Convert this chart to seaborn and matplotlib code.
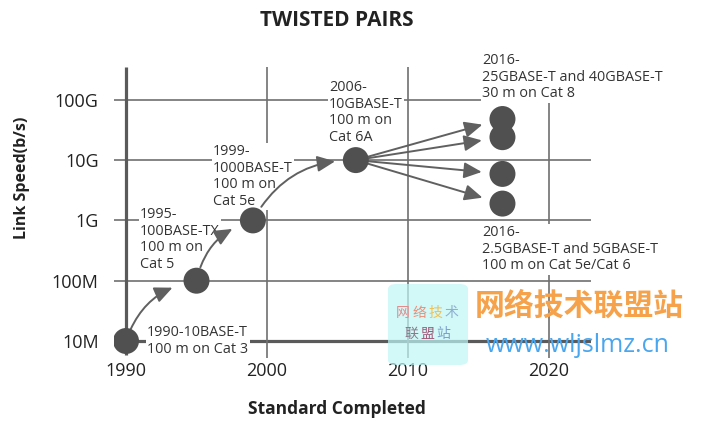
import numpy as np
import matplotlib
matplotlib.use("Agg")
import matplotlib.pyplot as plt
from matplotlib.patches import FancyBboxPatch
import seaborn as sns
import pandas as pd

# data
years = [1990, 1995, 1999, 2006.3, 2016.7, 2016.7, 2016.7, 2016.7]
speeds = [1e7, 1e8, 1e9, 1e10, 48e9, 24e9, 5.9e9, 1.9e9]
year_ticks = [1990, 2000, 2010, 2020]
speed_ticks = [1e7, 1e8, 1e9, 1e10, 1e11]
speed_labels = ["10M", "100M", "1G", "10G", "100G"]
labels = [
    "1990-10BASE-T\n100 m on Cat 3",
    "1995-\n100BASE-TX\n100 m on\nCat 5",
    "1999-\n1000BASE-T\n100 m on\nCat 5e",
    "2006-\n10GBASE-T\n100 m on\nCat 6A",
    "2016-\n25GBASE-T and 40GBASE-T\n30 m on Cat 8",
    "2016-\n2.5GBASE-T and 5GBASE-T\n100 m on Cat 5e/Cat 6",
]
label_px = [(147, 325), (140, 207), (213, 144), (329, 80), (482, 53), (482, 225)]

W, H = 705, 422
sns.set_style("white")
plt.rcParams["font.family"] = ["Open Sans", "DejaVu Sans"]

TXT = "#333333"
GRID = "#707070"
DOT = "#505050"

fig = plt.figure(figsize=(W / 100, H / 100), dpi=100)
ax = fig.add_axes([114 / W, (H - 358) / H, (591 - 114) / W, (358 - 60) / H])
ax.set_yscale("log")
px_per_year = 14.1
px_per_dec = 60.3
ax.set_xlim(1990 - 12 / px_per_year, 1990 + (591 - 126) / px_per_year)
ax.set_ylim(10 ** (7 - 17 / px_per_dec), 10 ** (7 + 281 / px_per_dec))
for s in ax.spines.values():
    s.set_visible(False)

xl = ax.get_xlim()
# horizontal grid lines
ax.hlines(speed_ticks[1:], xl[0], xl[1], color=GRID, lw=1.2, zorder=1)
ax.hlines(speed_ticks[0], xl[0], xl[1], color="#5a5a5a", lw=2.3, zorder=1)
# vertical grid lines
ytop = 10 ** (7 + (341 - 67) / px_per_dec)
ax.vlines(year_ticks[1:], ax.get_ylim()[0], ytop, color=GRID, lw=1.2, zorder=1)
ax.vlines(year_ticks[0], 10 ** (7 - 14 / px_per_dec), ytop, color="#5a5a5a", lw=2.3, zorder=1)

df = pd.DataFrame({"year": years, "speed": speeds})
sns.scatterplot(data=df, x="year", y="speed", s=350, color=DOT, edgecolor="none",
                zorder=5, ax=ax, legend=False)

ax.set_xticks(year_ticks)
ax.set_xticklabels([str(y) for y in year_ticks])
ax.set_yticks(speed_ticks)
ax.set_yticklabels(speed_labels)
ax.minorticks_off()
ax.tick_params(axis="both", length=0, labelsize=13, colors="#222222")
ax.tick_params(axis="y", pad=11)
ax.tick_params(axis="x", pad=3)
ax.set_xlabel("")
ax.set_ylabel("")

# arrows between generations
arrow_kw = dict(arrowstyle="-|>,head_length=0.6,head_width=0.27", color="#606060",
                lw=1.4, mutation_scale=18)
shrinks = [(9, 18), (10, 16), (11.5, 15)]
for i in range(3):
    ax.annotate("", xy=(years[i + 1], speeds[i + 1]), xytext=(years[i], speeds[i]),
                arrowprops=dict(**arrow_kw, connectionstyle="arc3,rad=-0.3",
                                shrinkA=shrinks[i][0], shrinkB=shrinks[i][1]), zorder=4)
for j in range(4, 8):
    ax.annotate("", xy=(years[j], speeds[j]), xytext=(years[3], speeds[3]),
                arrowprops=dict(**arrow_kw, connectionstyle="arc3,rad=0",
                                shrinkA=8, shrinkB=15), zorder=4)

for txt, (x, y) in zip(labels, label_px):
    ax.text(x / W, 1 - y / H, txt, transform=fig.transFigure, ha="left", va="top",
            fontsize=10.4, color=TXT, linespacing=1.14, zorder=3,
            bbox=dict(boxstyle="square,pad=0.1", fc="white", ec="none"))

fig.text(337 / W, 1 - 20 / H, "TWISTED PAIRS", ha="center", va="center",
         fontsize=15, fontweight="bold", color="#222222")
fig.text(337 / W, 1 - 409 / H, "Standard Completed", ha="center", va="center",
         fontsize=12.5, fontweight="bold", color="#222222")
fig.text(22 / W, 1 - 178 / H, "Link Speed(b/s)", ha="center", va="center",
         rotation=90, fontsize=11.5, fontweight="bold", color="#222222")

# watermark
cjk = ["Noto Sans CJK SC", "DejaVu Sans"]
box = FancyBboxPatch((388 / W, 1 - 365 / H), 80 / W, 81 / H,
                     boxstyle="round,pad=0,rounding_size=0.012",
                     transform=fig.transFigure, fc="#bff6f6", ec="none", alpha=0.7,
                     zorder=10)
fig.patches.append(box)
wm_chars = [("网", "#e58a8a"), ("络", "#e8907a"), ("技", "#f0c050"), ("术", "#8fb0d0")]
for k, (c, col) in enumerate(wm_chars):
    fig.text((403 + k * 16) / W, 1 - 313 / H, c, ha="center", va="center",
             fontsize=10, color=col, family=cjk, zorder=11)
wm_chars2 = [("联", "#8a7a8a"), ("盟", "#a05a7a"), ("站", "#7aa0d0")]
for k, (c, col) in enumerate(wm_chars2):
    fig.text((411 + k * 16) / W, 1 - 334 / H, c, ha="center", va="center",
             fontsize=10, color=col, family=cjk, zorder=11)
fig.text(475 / W, 1 - 306 / H, "网络技术联盟站", ha="left", va="center",
         fontsize=21.5, fontweight="bold", color="#f5a24a", family=cjk, zorder=11)
fig.text(486 / W, 1 - 346 / H, "www.wljslmz.cn", ha="left", va="center",
         fontsize=18, color="#4aa6ee", zorder=11)

fig.savefig("out.png", dpi=100)
